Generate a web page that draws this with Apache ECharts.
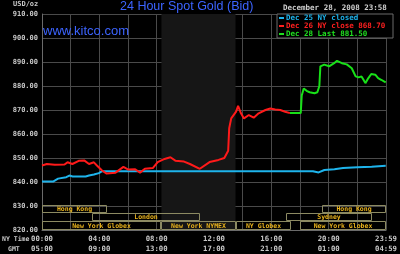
<!DOCTYPE html>
<html><head><meta charset="utf-8">
<script src="https://cdn.jsdelivr.net/npm/echarts@6/dist/echarts.min.js"></script>
<style>html,body{margin:0;padding:0;background:#000}#c{width:400px;height:254px}</style>
</head><body><div id="c"></div>
<script>
// ---- data ----
var blueHours = [0, 0.77, 1.12, 1.69, 1.91, 2.14, 3.05, 3.28, 3.62, 3.97, 4.19, 8.0, 12.0, 16.0, 18.9, 19.3, 19.7, 20.4, 21.0, 22.0, 23.0, 23.98];
var blueVals  = [840.2, 840.2, 841.4, 842.0, 842.7, 842.3, 842.3, 842.7, 843.1, 843.7, 844.5, 844.5, 844.5, 844.5, 844.5, 844.0, 845.0, 845.3, 845.8, 846.1, 846.4, 846.8];

var redHours = [0, 0.34, 0.89, 1.57, 1.78, 2.12, 2.6, 2.94, 3.28, 3.62, 3.83, 4.17, 4.51, 5.13, 5.68, 6.02, 6.5, 6.84, 7.18, 7.73, 8.07, 8.55, 8.96, 9.3, 9.91, 10.32, 11.01, 11.69, 12.31, 12.72, 12.99, 13.06, 13.2, 13.54, 13.68, 13.88, 14.09, 14.43, 14.77, 15.11, 15.59, 15.93, 16.27, 16.62, 16.96, 17.3];
var redVals  = [846.9, 847.5, 847.2, 847.3, 848.2, 847.5, 848.9, 849.0, 847.5, 848.2, 846.9, 844.9, 843.5, 843.9, 846.3, 845.2, 845.3, 843.9, 845.5, 845.8, 848.3, 849.6, 850.3, 848.9, 848.5, 847.5, 845.5, 848.3, 849.2, 850.0, 853.0, 862.4, 866.5, 869.3, 871.7, 868.6, 866.5, 867.9, 866.8, 868.6, 870.0, 870.6, 870.2, 870.0, 869.3, 868.7];

var greenHours = [17.3, 18.05, 18.12, 18.26, 18.46, 18.67, 19.01, 19.21, 19.35, 19.42, 19.69, 20.03, 20.38, 20.58, 20.92, 21.26, 21.61, 21.88, 22.09, 22.29, 22.43, 22.56, 22.77, 22.97, 23.25, 23.45, 23.66, 23.86, 23.98];
var greenVals  = [868.7, 868.7, 876.0, 879.0, 878.0, 877.4, 877.0, 877.4, 880.0, 888.2, 888.9, 888.2, 889.5, 890.5, 889.5, 889.0, 887.4, 884.0, 883.6, 884.0, 882.6, 881.2, 883.3, 885.0, 884.7, 883.3, 882.6, 881.9, 881.5];

var seriesNames = ['Dec 25 NY closed', 'Dec 26 NY close 868.70', 'Dec 28 Last 881.50'];

var tickHours = [0, 4, 8, 12, 16, 20, 24];
var nyLabels  = ['00:00', '04:00', '08:00', '12:00', '16:00', '20:00', '23:59'];
var gmtLabels = ['05:00', '09:00', '13:00', '17:00', '21:00', '01:00', '04:59'];

var nymexStart = 8.333, nymexEnd = 13.5;

var bandNames = ['Hong Kong', 'Hong Kong', 'London', 'Sydney', 'New York Globex', 'New York NYMEX', 'NY Globex', 'New York Globex'];
var bandStart = [0, 19.5, 3.5, 17.0, 0, 8.333, 13.5, 18.0];
var bandEnd   = [4.5, 24, 11.0, 23.0, 8.333, 13.5, 17.4, 24];
var bandRow   = [0, 0, 1, 1, 2, 2, 2, 2];
var rowEdges  = [830.4, 827.0, 823.6, 820.2];

// ---- chart ----
function zip(a, b) { return a.map(function (h, i) { return [h, b[i]]; }); }
var MONO = 'DejaVu Sans Mono';
var gold = '#e8b21c';

var bandData = bandNames.map(function (n, i) { return [bandStart[i], bandEnd[i], bandRow[i], n]; });

var chart = echarts.init(document.getElementById('c'), null, {renderer: 'canvas'});
chart.setOption({
  backgroundColor: '#000',
  animation: false,
  grid: {left: 42, right: 7, top: 14, bottom: 21},
  xAxis: {
    type: 'value', min: 0, max: 24, interval: 2,
    axisLine: {show: true, lineStyle: {color: '#6a6a6a'}},
    axisTick: {show: false},
    splitLine: {show: true, lineStyle: {color: '#4a4a4a', width: 1}},
    axisLabel: {
      interval: 0, showMaxLabel: true, showMinLabel: true,
      color: '#c8c8c8', fontFamily: MONO, fontSize: 7.3, fontWeight: 'bold', lineHeight: 10, margin: 4,
      formatter: function (v) {
        var i = tickHours.indexOf(v);
        return i < 0 ? '' : nyLabels[i] + '\n' + gmtLabels[i];
      }
    }
  },
  yAxis: {
    type: 'value', min: 820, max: 910, interval: 10,
    axisLine: {show: true, lineStyle: {color: '#6a6a6a'}},
    axisTick: {show: false},
    splitLine: {show: true, lineStyle: {color: '#4a4a4a', width: 1}},
    axisLabel: {color: '#c8c8c8', fontFamily: MONO, fontSize: 7, fontWeight: 'bold', margin: 4,
      formatter: function (v) { return v.toFixed(2); }}
  },
  legend: {
    orient: 'vertical', left: 279, top: 14, z: 10,
    itemWidth: 5, itemHeight: 2, itemGap: 0, padding: 0,
    icon: 'rect',
    data: [
      {name: seriesNames[0], textStyle: {color: '#1eb4ec'}},
      {name: seriesNames[1], textStyle: {color: '#ff2020'}},
      {name: seriesNames[2], textStyle: {color: '#20e020'}}
    ],
    textStyle: {fontFamily: MONO, fontSize: 7.5, fontWeight: 'bold', lineHeight: 8, padding: [0, 0, 0, -3]}
  },
  graphic: [
    {type: 'rect', z: 5, shape: {x: 277, y: 14, width: 116, height: 24}, style: {fill: '#000', stroke: '#6a6a6a', lineWidth: 1}},
    {type: 'text', z: 6, left: 120, top: 0, style: {text: '24 Hour Spot Gold (Bid)', fill: '#3c64ff', font: '12.5px "Liberation Sans"'}},
    {type: 'text', z: 6, left: 43, top: 25, style: {text: 'www.kitco.com', fill: '#3c64ff', font: '13px "Liberation Sans"'}},
    {type: 'text', z: 6, left: 283, top: 4, style: {text: 'December 28, 2008 23:58', fill: '#d0d0d0', font: 'bold 7.5px "DejaVu Sans Mono"'}},
    {type: 'text', z: 6, left: 13, top: 1, style: {text: 'USD/oz', fill: '#c8c8c8', font: 'bold 7px "DejaVu Sans Mono"'}},
    {type: 'text', z: 6, left: 2, top: 236, style: {text: 'NY Time', fill: '#c8c8c8', font: 'bold 6.5px "DejaVu Sans Mono"'}},
    {type: 'text', z: 6, left: 8, top: 246, style: {text: 'GMT', fill: '#c8c8c8', font: 'bold 6.5px "DejaVu Sans Mono"'}}
  ],
  series: [
    {
      name: seriesNames[0], type: 'line', data: zip(blueHours, blueVals), showSymbol: false,
      lineStyle: {color: '#1eb4ec', width: 2}, itemStyle: {color: '#1eb4ec'}, z: 3,
      markArea: {silent: true, itemStyle: {color: '#161616'}, data: [[{xAxis: nymexStart}, {xAxis: nymexEnd}]]}
    },
    {name: seriesNames[1], type: 'line', data: zip(redHours, redVals), showSymbol: false,
      lineStyle: {color: '#ff1a1a', width: 2}, itemStyle: {color: '#ff2020'}, z: 3},
    {name: seriesNames[2], type: 'line', data: zip(greenHours, greenVals), showSymbol: false,
      lineStyle: {color: '#18e018', width: 2}, itemStyle: {color: '#20e020'}, z: 3},
    {
      type: 'custom', z: 4, silent: true, data: bandData,
      renderItem: function (params, api) {
        var row = api.value(2);
        var p0 = api.coord([api.value(0), rowEdges[row]]);
        var p1 = api.coord([api.value(1), rowEdges[row + 1]]);
        var x0 = Math.round(p0[0]) + 0.5, y0 = Math.round(p0[1]) + 0.5;
        var x1 = Math.round(p1[0]) - 0.5, y1 = Math.round(p1[1]) - 0.5;
        return {
          type: 'group',
          children: [
            {type: 'rect', shape: {x: x0, y: y0, width: x1 - x0, height: y1 - y0},
              style: {fill: 'rgba(0,0,0,0)', stroke: '#8c8a62', lineWidth: 1}},
            {type: 'text', x: (x0 + x1) / 2, y: (y0 + y1) / 2 + 0.5,
              style: {text: bandNames[params.dataIndex], fill: gold, font: 'bold 6.5px "DejaVu Sans Mono"', align: 'center', verticalAlign: 'middle'}}
          ]
        };
      }
    }
  ]
});
</script></body></html>
